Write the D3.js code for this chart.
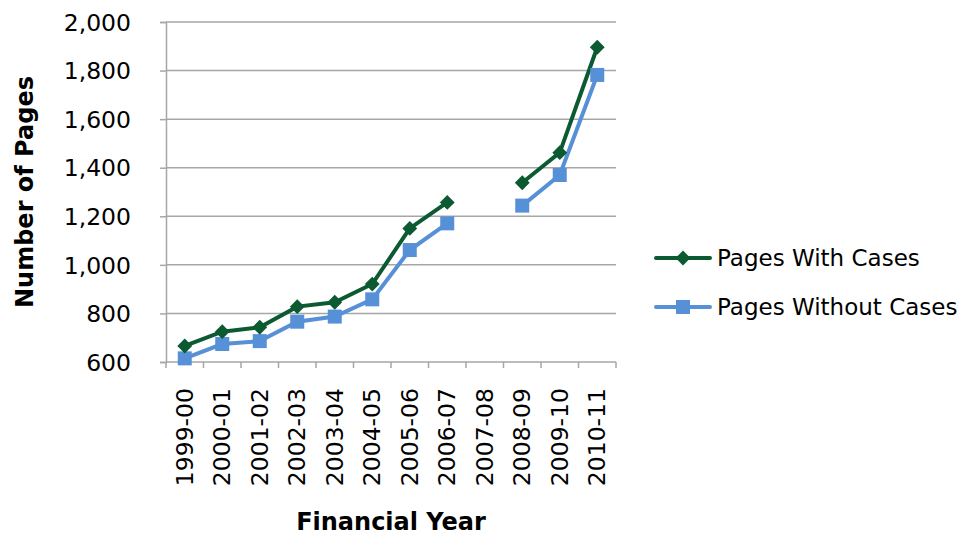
<!DOCTYPE html>
<html>
<head>
<meta charset="utf-8">
<script src="https://cdn.jsdelivr.net/npm/d3@7"></script>
<style>
  body { margin: 0; background: #fff; }
  text { font-family: "DejaVu Sans", Verdana, sans-serif; fill: #000; }
</style>
</head>
<body>
<script>
// Data
var years = ["1999-00", "2000-01", "2001-02", "2002-03", "2003-04", "2004-05",
             "2005-06", "2006-07", "2007-08", "2008-09", "2009-10", "2010-11"];
var withCases = [666, 725, 743, 828, 846, 921, 1150, 1257, null, 1338, 1462, 1896];
var withoutCases = [615, 674, 686, 766, 787, 858, 1061, 1171, null, 1244, 1370, 1782];
var yTicks = [600, 800, 1000, 1200, 1400, 1600, 1800, 2000];
var seriesNames = ["Pages With Cases", "Pages Without Cases"];

// Layout
var W = 965, H = 538;
var margin = {left: 166, right: 349, top: 22, bottom: 176};
var width = W - margin.left - margin.right,
    height = H - margin.top - margin.bottom;

var svg = d3.select("body").append("svg")
    .attr("width", W)
    .attr("height", H);

var g = svg.append("g")
    .attr("transform", "translate(" + margin.left + "," + margin.top + ")");

// Scales
var x = d3.scaleBand().domain(years).range([0, width]);
var y = d3.scaleLinear().domain([600, 2000]).range([height, 0]);

// Gridlines
g.append("g")
  .selectAll("line")
  .data(yTicks.slice(1))
  .enter().append("line")
    .attr("x1", 0).attr("x2", width)
    .attr("y1", function(d) { return y(d); })
    .attr("y2", function(d) { return y(d); })
    .attr("stroke", "#a6a6a6")
    .attr("stroke-width", 1.5);

// Y axis
var yAxis = g.append("g")
    .call(d3.axisLeft(y).tickValues(yTicks).tickSize(6).tickPadding(29)
      .tickFormat(d3.format(",")));
yAxis.select(".domain").attr("stroke", "#a6a6a6").attr("stroke-width", 1.5);
yAxis.selectAll(".tick line").attr("stroke", "#a6a6a6").attr("stroke-width", 1.5);
yAxis.selectAll("text").style("font-size", "23.5px").attr("dy", "0.35em");

// X axis (ticks between categories)
var xAxisG = g.append("g").attr("transform", "translate(0," + height + ")");
xAxisG.append("line")
    .attr("x1", 0).attr("x2", width)
    .attr("stroke", "#a6a6a6").attr("stroke-width", 1.5);
xAxisG.selectAll(".tk")
  .data(years.concat(["end"]))
  .enter().append("line")
    .attr("class", "tk")
    .attr("x1", function(d, i) { return i * x.bandwidth(); })
    .attr("x2", function(d, i) { return i * x.bandwidth(); })
    .attr("y1", 0).attr("y2", 6)
    .attr("stroke", "#a6a6a6").attr("stroke-width", 1.5);
xAxisG.selectAll(".lbl")
  .data(years)
  .enter().append("text")
    .attr("class", "lbl")
    .attr("transform", function(d) {
      return "translate(" + (x(d) + x.bandwidth() / 2) + ",26) rotate(-90)";
    })
    .attr("text-anchor", "end")
    .attr("dy", "0.35em")
    .style("font-size", "23.5px")
    .text(function(d) { return d; });

// Axis titles
svg.append("text")
    .attr("x", margin.left + width / 2)
    .attr("y", 530)
    .attr("text-anchor", "middle")
    .style("font-size", "24px")
    .style("font-weight", "bold")
    .text("Financial Year");

svg.append("text")
    .attr("transform", "translate(33,192) rotate(-90)")
    .attr("text-anchor", "middle")
    .style("font-size", "24px")
    .style("font-weight", "bold")
    .text("Number of Pages");

// Lines
var line = d3.line()
    .defined(function(d) { return d != null; })
    .x(function(d, i) { return x(years[i]) + x.bandwidth() / 2; })
    .y(function(d) { return y(d); });

var green = "#0b5a32", blue = "#5690d6";

g.append("path").datum(withoutCases)
    .attr("d", line).attr("fill", "none")
    .attr("stroke", blue).attr("stroke-width", 4);
g.append("path").datum(withCases)
    .attr("d", line).attr("fill", "none")
    .attr("stroke", green).attr("stroke-width", 4);

// Markers
g.selectAll(".sq")
  .data(withoutCases.map(function(v, i) { return {v: v, i: i}; })
    .filter(function(d) { return d.v != null; }))
  .enter().append("rect")
    .attr("class", "sq")
    .attr("x", function(d) { return x(years[d.i]) + x.bandwidth() / 2 - 7; })
    .attr("y", function(d) { return y(d.v) - 7; })
    .attr("width", 14).attr("height", 14)
    .attr("fill", blue);

var diamond = d3.symbol().type(d3.symbolDiamond2).size(140);
g.selectAll(".dm")
  .data(withCases.map(function(v, i) { return {v: v, i: i}; })
    .filter(function(d) { return d.v != null; }))
  .enter().append("path")
    .attr("class", "dm")
    .attr("d", diamond)
    .attr("transform", function(d) {
      return "translate(" + (x(years[d.i]) + x.bandwidth() / 2) + "," + y(d.v) + ")";
    })
    .attr("fill", green);

// Legend
var legend = svg.append("g").attr("transform", "translate(656,258)");
var colors = [green, blue];
seriesNames.forEach(function(name, i) {
  var row = legend.append("g").attr("transform", "translate(0," + (i * 49) + ")");
  row.append("line")
      .attr("x1", 0).attr("x2", 54)
      .attr("stroke", colors[i]).attr("stroke-width", 4)
      .attr("stroke-linecap", "round");
  if (i == 0) {
    row.append("path").attr("d", diamond).attr("transform", "translate(27,0)").attr("fill", green);
  } else {
    row.append("rect").attr("x", 20).attr("y", -7).attr("width", 14).attr("height", 14).attr("fill", blue);
  }
  row.append("text")
      .attr("x", 61).attr("dy", "0.35em")
      .style("font-size", "23px")
      .text(name);
});
</script>
</body>
</html>
